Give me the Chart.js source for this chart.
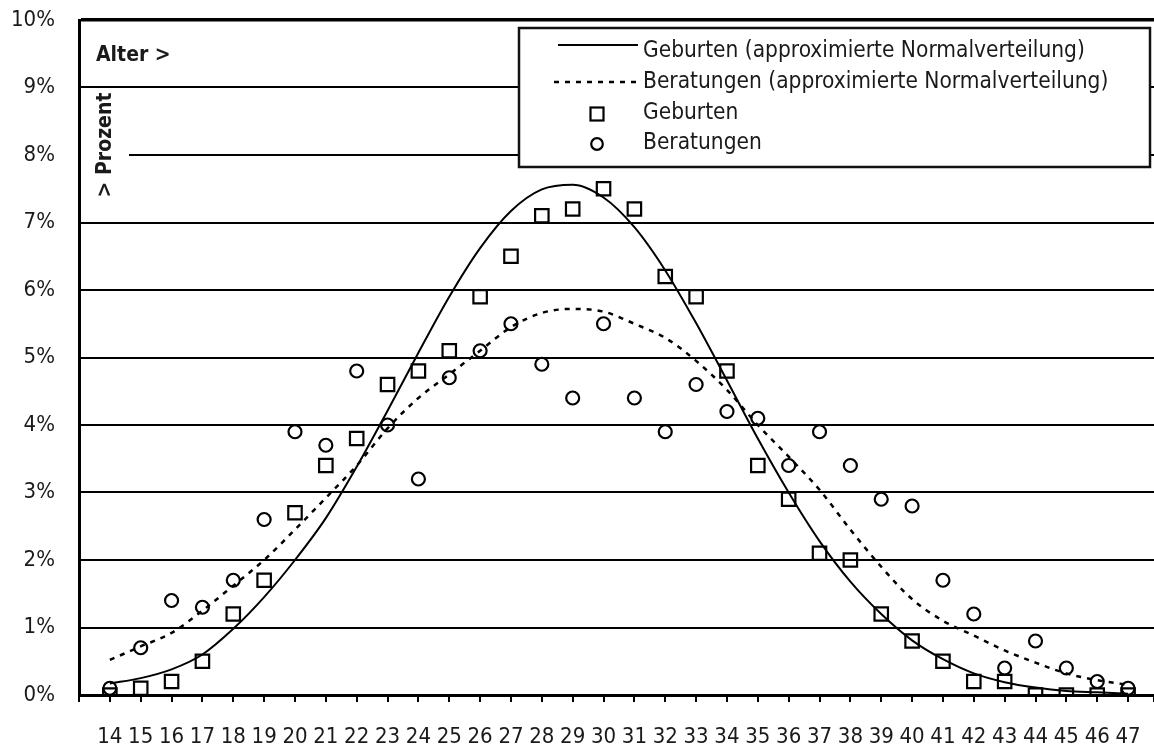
<!DOCTYPE html>
<html>
<head>
<meta charset="utf-8">
<script src="https://cdn.jsdelivr.net/npm/chart.js@4/dist/chart.umd.min.js"></script>
<style>
  html, body { margin: 0; padding: 0; background: #fff; overflow: hidden; width: 1154px; height: 747px; }
  #wrap { width: 1400px; height: 747px; position: relative; }
  #c { position: absolute; left: 0; top: 0; }
</style>
</head>
<body>
<div id="wrap"><canvas id="c" width="1167" height="747"></canvas></div>
<script>
// ---- data ----
const ages = [14,15,16,17,18,19,20,21,22,23,24,25,26,27,28,29,30,31,32,33,34,35,36,37,38,39,40,41,42,43,44,45,46,47];
const geburten = [0.0,0.1,0.2,0.5,1.2,1.7,2.7,3.4,3.8,4.6,4.8,5.1,5.9,6.5,7.1,7.2,7.5,7.2,6.2,5.9,4.8,3.4,2.9,2.1,2.0,1.2,0.8,0.5,0.2,0.2,0.0,0.0,0.0,0.0];
const beratungen = [0.1,0.7,1.4,1.3,1.7,2.6,3.9,3.7,4.8,4.0,3.2,4.7,5.1,5.5,4.9,4.4,5.5,4.4,3.9,4.6,4.2,4.1,3.4,3.9,3.4,2.9,2.8,1.7,1.2,0.4,0.8,0.4,0.2,0.1];
const geburtenNormal = [0.17,0.25,0.38,0.6,0.98,1.45,2.0,2.62,3.38,4.21,5.07,5.9,6.62,7.17,7.49,7.56,7.37,6.93,6.29,5.51,4.66,3.8,3.0,2.28,1.68,1.2,0.81,0.53,0.32,0.19,0.11,0.06,0.04,0.02];
const beratungenNormal = [0.52,0.72,0.92,1.25,1.62,2.0,2.45,2.92,3.4,3.95,4.4,4.75,5.1,5.45,5.66,5.72,5.68,5.5,5.29,4.95,4.52,4.0,3.53,3.04,2.45,1.9,1.42,1.1,0.88,0.66,0.48,0.32,0.22,0.15];
const yTicks = [0,1,2,3,4,5,6,7,8,9,10];
const labels = {
  geburtenNormal: 'Geburten (approximierte Normalverteilung)',
  beratungenNormal: 'Beratungen (approximierte Normalverteilung)',
  geburten: 'Geburten',
  beratungen: 'Beratungen'
};
const xTitle = 'Alter >';
const yTitle = '> Prozent';
const xMin = 13;
const xMax = 47.85;

const FONT = "'DejaVu Sans Condensed', 'Liberation Sans Narrow', 'DejaVu Sans', sans-serif";
const INK = '#1a1a1a';
const W = 1154, H = 747;

const pts = arr => ages.map((a, i) => ({ x: a, y: arr[i] }));

const overlay = {
  id: 'overlay',
  afterDatasetsDraw(chart) {
    const ctx = chart.ctx;
    ctx.save();
    // white panel behind the vertical axis title
    ctx.fillStyle = '#fff';
    ctx.fillRect(81, 89, 48, 111);
    ctx.fillStyle = INK;
    ctx.font = `bold 21px ${FONT}`;
    ctx.textAlign = 'left';
    ctx.textBaseline = 'alphabetic';
    ctx.fillText(xTitle, 96, 61);
    ctx.save();
    ctx.translate(111, 145);
    ctx.rotate(-Math.PI / 2);
    ctx.textAlign = 'center';
    ctx.fillText(yTitle, 0, 0);
    ctx.restore();

    // legend box
    ctx.fillStyle = '#fff';
    ctx.fillRect(519, 28, 631, 139);
    ctx.strokeStyle = '#111';
    ctx.lineWidth = 2.5;
    ctx.strokeRect(519, 28, 631, 139);

    const ds = chart.data.datasets;
    ctx.font = `22.5px ${FONT}`;
    ctx.fillStyle = INK;
    ctx.textAlign = 'left';
    ctx.textBaseline = 'alphabetic';
    const rows = [
      { d: ds[2], y: 45, base: 57, type: 'line', x0: 558 },
      { d: ds[3], y: 82, base: 88, type: 'line', x0: 554 },
      { d: ds[0], y: 114, base: 119, type: 'point' },
      { d: ds[1], y: 144, base: 149, type: 'point' }
    ];
    rows.forEach(r => {
      ctx.save();
      ctx.strokeStyle = '#000';
      if (r.type === 'line') {
        ctx.lineWidth = r.d.borderWidth;
        ctx.setLineDash(r.d.borderDash || []);
        ctx.beginPath();
        ctx.moveTo(r.x0, r.y);
        ctx.lineTo(638, r.y);
        ctx.stroke();
      } else {
        ctx.lineWidth = 2.2;
        if (r.d.pointStyle === 'rect') {
          ctx.strokeRect(597 - 6.5, r.y - 6.5, 13, 13);
        } else {
          ctx.beginPath();
          ctx.arc(597, r.y, 5.8, 0, Math.PI * 2);
          ctx.stroke();
        }
      }
      ctx.restore();
      ctx.fillText(r.d.label, 643, r.base);
    });
    ctx.restore();
  }
};

const chart = new Chart(document.getElementById('c'), {
  type: 'scatter',
  data: {
    datasets: [
      {
        label: labels.geburten, data: pts(geburten), showLine: false,
        pointStyle: 'rect', pointRadius: 9.5, pointBorderWidth: 2.2,
        pointBorderColor: '#000', pointBackgroundColor: 'rgba(0,0,0,0)'
      },
      {
        label: labels.beratungen, data: pts(beratungen), showLine: false,
        pointStyle: 'circle', pointRadius: 6.5, pointBorderWidth: 2.2,
        pointBorderColor: '#000', pointBackgroundColor: 'rgba(0,0,0,0)'
      },
      {
        label: labels.geburtenNormal, data: pts(geburtenNormal), showLine: true,
        borderColor: '#000', borderWidth: 2, pointRadius: 0, tension: 0.4,
        cubicInterpolationMode: 'monotone', fill: false
      },
      {
        label: labels.beratungenNormal, data: pts(beratungenNormal), showLine: true,
        borderColor: '#000', borderWidth: 2.5, borderDash: [5, 6], pointRadius: 0,
        tension: 0.4, cubicInterpolationMode: 'monotone', fill: false
      }
    ]
  },
  options: {
    responsive: false,
    maintainAspectRatio: false,
    animation: false,
    devicePixelRatio: 1,
    layout: { padding: { top: 20, right: 0, left: 0, bottom: 0 } },
    plugins: { legend: { display: false }, tooltip: { enabled: false } },
    scales: {
      x: {
        type: 'linear',
        min: xMin,
        max: xMax,
        afterFit: s => { s.height = 52; s.paddingRight = 0; },
        afterBuildTicks: s => { s.ticks = [xMin].concat(ages, [xMax]).map(v => ({ value: v })); },
        ticks: {
          autoSkip: false, maxRotation: 0, padding: 0,
          color: INK, font: { family: FONT, size: 22, lineHeight: 3.18 },
          callback: v => (ages.includes(v) ? String(v) : '')
        },
        grid: { drawOnChartArea: false, drawTicks: true, tickLength: 7, color: '#000', lineWidth: 2 },
        border: { display: true, color: '#000', width: 3 }
      },
      y: {
        min: 0, max: 10,
        afterFit: s => { s.width = 79; s.paddingTop = 0; s.paddingBottom = 0; },
        afterBuildTicks: s => { s.ticks = yTicks.map(v => ({ value: v })); },
        ticks: {
          padding: 24, color: INK, font: { family: FONT, size: 22 },
          callback: v => v + '%'
        },
        grid: {
          drawTicks: false, color: '#000',
          lineWidth: c => (c.tick && c.tick.value === 10 ? 3.5 : 2)
        },
        border: { display: true, color: '#000', width: 3 }
      }
    }
  },
  plugins: [overlay]
});

// let the plot area run to the right edge of the window, as in the original
for (let i = 0; i < 3; i++) {
  const extra = Math.round(W - chart.chartArea.right);
  if (extra === 0) break;
  chart.resize(chart.width + extra, H);
}
</script>
</body>
</html>
